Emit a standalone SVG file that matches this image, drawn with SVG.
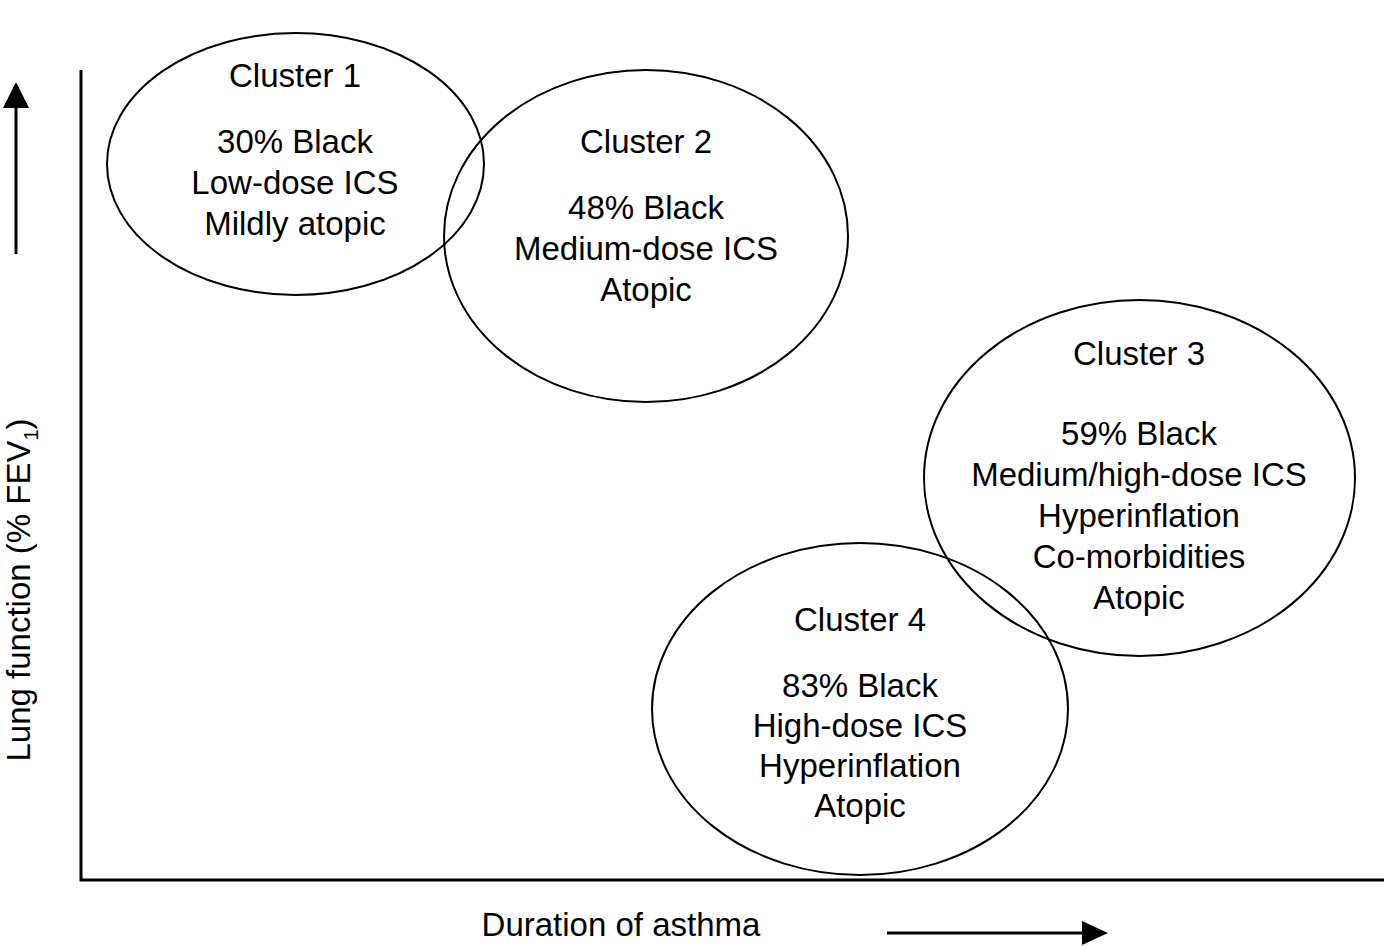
<svg xmlns="http://www.w3.org/2000/svg" width="1384" height="946" viewBox="0 0 1384 946">
<style>
text{font-family:"Liberation Sans",Arial,sans-serif;font-size:33px;fill:#000}
.c text{text-anchor:middle}
ellipse{fill:none;stroke:#000;stroke-width:2}
.ax{stroke:#000;stroke-width:3;fill:none}
</style>
<rect width="1384" height="946" fill="#fff"/>
<g id="axes">
<polyline class="ax" points="81,70 81,880 1384,880"/>
</g>
<g id="connectors">
<line x1="16" y1="254" x2="16" y2="106" stroke="#000" stroke-width="3"/>
<polygon points="16,82 3,108 29,108" fill="#000"/>
<line x1="887" y1="933" x2="1084" y2="933" stroke="#000" stroke-width="3"/>
<polygon points="1108,933 1082,921 1082,945" fill="#000"/>
</g>
<g id="cluster1" class="c">
<ellipse cx="295.5" cy="164" rx="188.5" ry="131"/>
<text x="295" y="87">Cluster 1</text>
<text x="295" y="153">30% Black</text>
<text x="295" y="194">Low-dose ICS</text>
<text x="295" y="235">Mildly atopic</text>
</g>
<g id="cluster2" class="c">
<ellipse cx="646" cy="236" rx="202" ry="166"/>
<text x="646" y="153">Cluster 2</text>
<text x="646" y="219">48% Black</text>
<text x="646" y="260">Medium-dose ICS</text>
<text x="646" y="301">Atopic</text>
</g>
<g id="cluster3" class="c">
<ellipse cx="1139.5" cy="478" rx="215.5" ry="178"/>
<text x="1139" y="365">Cluster 3</text>
<text x="1139" y="445">59% Black</text>
<text x="1139" y="486">Medium/high-dose ICS</text>
<text x="1139" y="527">Hyperinflation</text>
<text x="1139" y="568">Co-morbidities</text>
<text x="1139" y="609">Atopic</text>
</g>
<g id="cluster4" class="c">
<ellipse cx="860" cy="709" rx="208" ry="166"/>
<text x="860" y="631">Cluster 4</text>
<text x="860" y="697">83% Black</text>
<text x="860" y="737">High-dose ICS</text>
<text x="860" y="777">Hyperinflation</text>
<text x="860" y="817">Atopic</text>
</g>
<g id="labels">
<text x="621" y="936" text-anchor="middle">Duration of asthma</text>
<text transform="translate(30,590) rotate(-90)" text-anchor="middle">Lung function (% FEV<tspan font-size="20" dy="8">1</tspan><tspan dy="-8">)</tspan></text>
</g>
</svg>
